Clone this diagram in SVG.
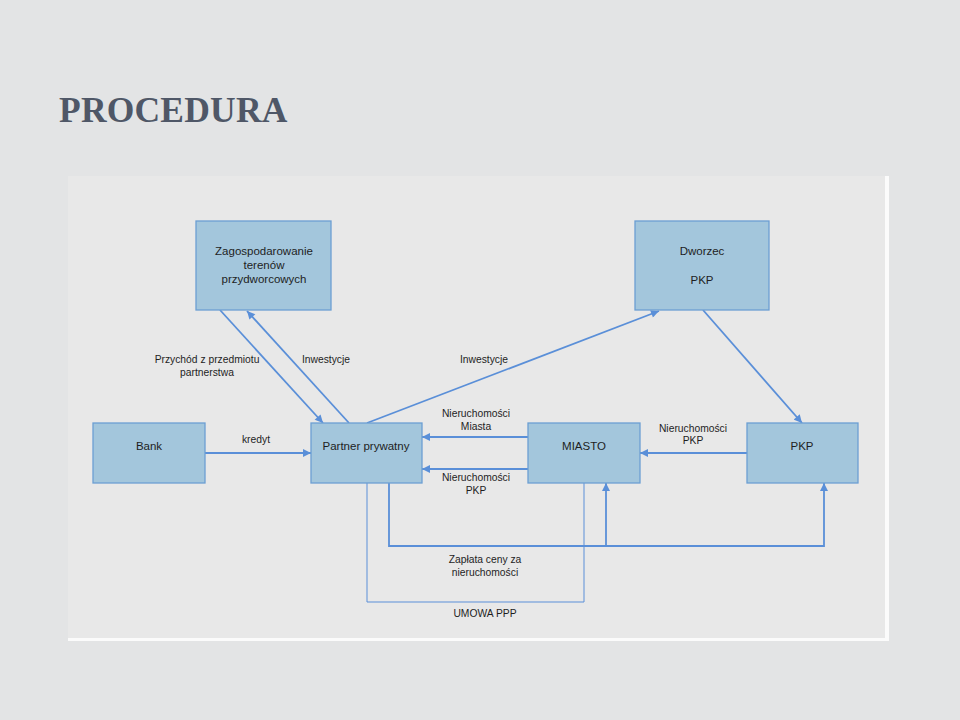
<svg xmlns="http://www.w3.org/2000/svg" width="960" height="720" viewBox="0 0 960 720">
<defs>
<marker id="ah" viewBox="0 0 10 10" refX="10" refY="5" markerWidth="9" markerHeight="8" markerUnits="userSpaceOnUse" orient="auto">
<path d="M0,0 L10,5 L0,10 z" fill="#5a8fd8"/>
</marker>
<style>
.box{fill:#a3c6dc;stroke:#6c9fd3;stroke-width:1.3}
.bt{font-family:"Liberation Sans",Arial,sans-serif;font-size:11.5px;fill:#1e1e1e;text-anchor:middle}
.lt{font-family:"Liberation Sans",Arial,sans-serif;font-size:10.3px;fill:#1e1e1e;text-anchor:middle}
.ln{stroke:#5a8fd8;stroke-width:1.8;fill:none}
.thin{stroke:#5a8fd8;stroke-width:1;fill:none}
</style>
</defs>
<rect x="0" y="0" width="960" height="720" fill="#e3e4e5"/>
<text x="59" y="122" font-family="'Liberation Serif','Times New Roman',serif" font-weight="bold" font-size="35.5" fill="#4f5767" letter-spacing="0.2">PROCEDURA</text>
<rect x="68" y="176" width="821" height="465" fill="#fbfbfb"/>
<rect x="68" y="176" width="817" height="462" fill="#e8e8e8"/>

<g id="connectors">
<line class="ln" x1="220" y1="310" x2="323" y2="423" marker-end="url(#ah)"/>
<line class="ln" x1="349" y1="423" x2="247" y2="311" marker-end="url(#ah)"/>
<line class="ln" x1="367" y1="423" x2="659" y2="311" marker-end="url(#ah)"/>
<line class="ln" x1="703" y1="310" x2="802" y2="423" marker-end="url(#ah)"/>
<line class="ln" x1="205" y1="453" x2="311" y2="453" marker-end="url(#ah)"/>
<line class="ln" x1="528" y1="437" x2="422" y2="437" marker-end="url(#ah)"/>
<line class="ln" x1="528" y1="469" x2="422" y2="469" marker-end="url(#ah)"/>
<line class="ln" x1="747" y1="453" x2="640" y2="453" marker-end="url(#ah)"/>
<polyline class="ln" points="389,483 389,546 824,546 824,483" marker-end="url(#ah)"/>
<line class="ln" x1="606" y1="546" x2="606" y2="483" marker-end="url(#ah)"/>
<polyline class="thin" points="367,483 367,602 584,602 584,483"/>
<text class="lt" x="207" y="363">Przychód z przedmiotu</text>
<text class="lt" x="207" y="376">partnerstwa</text>
<text class="lt" x="326" y="363">Inwestycje</text>
<text class="lt" x="484" y="363">Inwestycje</text>
<text class="lt" x="256" y="443">kredyt</text>
<text class="lt" x="476" y="417">Nieruchomości</text>
<text class="lt" x="476" y="430">Miasta</text>
<text class="lt" x="476" y="481">Nieruchomości</text>
<text class="lt" x="476" y="494">PKP</text>
<text class="lt" x="693" y="432">Nieruchomości</text>
<text class="lt" x="693" y="444">PKP</text>
<text class="lt" x="485" y="563">Zapłata ceny za</text>
<text class="lt" x="485" y="576">nieruchomości</text>
<text class="lt" x="485" y="617">UMOWA PPP</text>
</g>

<g id="zagospodarowanie">
<rect class="box" x="196" y="221" width="135" height="89"/>
<text class="bt" x="264" y="255">Zagospodarowanie</text>
<text class="bt" x="264" y="269">terenów</text>
<text class="bt" x="264" y="283">przydworcowych</text>
</g>
<g id="dworzec">
<rect class="box" x="635" y="221" width="134" height="89"/>
<text class="bt" x="702" y="255">Dworzec</text>
<text class="bt" x="702" y="284">PKP</text>
</g>
<g id="bank">
<rect class="box" x="93" y="423" width="112" height="60"/>
<text class="bt" x="149" y="450">Bank</text>
</g>
<g id="partner">
<rect class="box" x="311" y="423" width="111" height="60"/>
<text class="bt" x="366" y="450">Partner prywatny</text>
</g>
<g id="miasto">
<rect class="box" x="528" y="423" width="112" height="60"/>
<text class="bt" x="584" y="450">MIASTO</text>
</g>
<g id="pkp">
<rect class="box" x="747" y="423" width="111" height="60"/>
<text class="bt" x="802" y="450">PKP</text>
</g>
</svg>
